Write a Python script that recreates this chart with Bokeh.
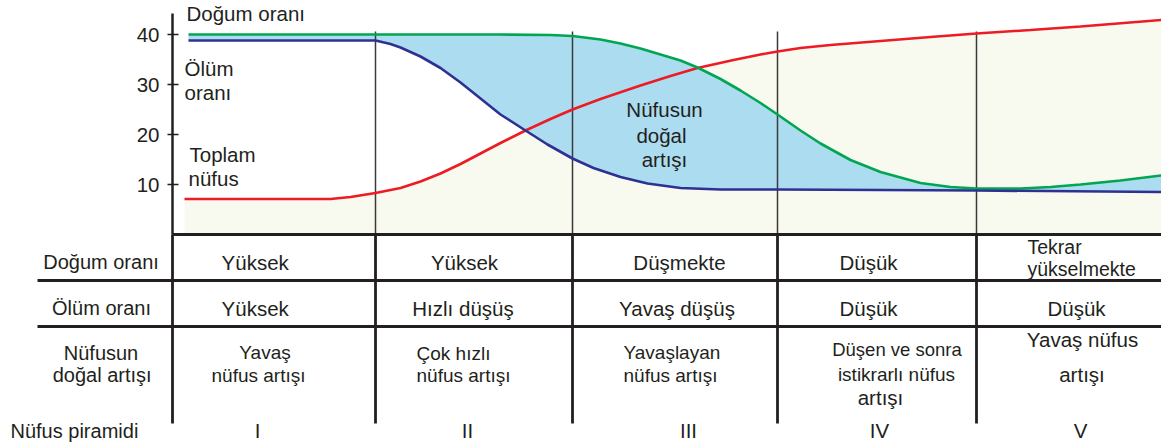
from bokeh.plotting import figure
from bokeh.models import Range1d, FixedTicker
from bokeh.embed import file_html
from bokeh.resources import INLINE
from bokeh.core.properties import value

# ---------------- data ----------------
# x: position along the time axis (0 = start of stage I)
stage_edges = [203, 400, 605, 804]
stage_names = ["I", "II", "III", "IV", "V"]
y_ticks = [10, 20, 30, 40]

birth_x = [16, 128, 228, 328, 378, 400, 428, 448, 468, 488, 508, 525, 548, 568, 588,
           605, 628, 648, 678, 708, 748, 778, 804, 848, 878, 908, 948, 989]
birth_y = [40.0, 40.0, 40.0, 40.0, 39.9, 39.7, 39.0, 38.2, 37.2, 36.0, 34.8, 33.4, 31.1, 28.8, 26.3,
           24.0, 20.8, 18.2, 14.9, 12.5, 10.3, 9.5, 9.2, 9.2, 9.5, 10.0, 10.8, 11.8]

death_x = [16, 128, 203, 218, 228, 248, 268, 288, 308, 328, 353, 375, 400, 421, 448,
           475, 508, 548, 605, 708, 804, 989]
death_y = [38.8, 38.8, 38.8, 38.1, 37.4, 35.6, 33.3, 30.4, 27.2, 24.0, 20.8, 18.0, 15.2, 13.3, 11.5,
           10.2, 9.3, 9.0, 9.0, 8.9, 8.8, 8.5]

pop_x = [12, 78, 158, 178, 203, 228, 248, 268, 288, 308, 328, 353, 378, 400, 428, 468,
         498, 525, 561, 588, 605, 628, 658, 708, 758, 804, 858, 908, 989]
pop_y = [7.1, 7.1, 7.1, 7.5, 8.3, 9.3, 10.6, 12.2, 14.1, 16.2, 18.3, 20.8, 23.1, 25.0, 27.1, 29.8,
         31.7, 33.3, 34.9, 36.0, 36.6, 37.3, 37.9, 38.7, 39.5, 40.2, 40.9, 41.6, 42.9]

# chart labels: text, x, y, align
chart_labels = [
    ("Doğum oranı", 14, 44.2, "left"),
    ("Ölüm", 12, 33.3, "left"),
    ("oranı", 12, 28.4, "left"),
    ("Toplam", 17, 16.0, "left"),
    ("nüfus", 16, 11.2, "left"),
    ("Nüfusun", 492, 25.0, "center"),
    ("doğal", 489, 19.9, "center"),
    ("artışı", 492, 15.1, "center"),
]

# table (y measured downward from the top of the table)
row_labels = ["Doğum oranı", "Ölüm oranı", "Nüfusun", "doğal artışı"]
row_label_x = [-71.5, -71, -71.5, -70.3]
row_label_y = [28.8, 74.5, 119.5, 141.5]
pyramid_label = "Nüfus piramidi"
pyramid_label_x = -162
pyramid_label_y = 197

cell_text = ["Yüksek", "Yüksek", "Düşmekte", "Düşük", "Tekrar", "yükselmekte",
             "Yüksek", "Hızlı düşüş", "Yavaş düşüş", "Düşük", "Düşük",
             "Yavaş", "nüfus artışı", "Çok hızlı", "nüfus artışı", "Yavaşlayan", "nüfus artışı",
             "Düşen ve sonra", "istikrarlı nüfus", "artışı", "Yavaş nüfus", "artışı"]
cell_x = [82.7, 292, 507, 696, 855, 855,
          82.7, 290.5, 504.5, 696, 904,
          92.5, 86, 244, 244, 451, 451,
          724.5, 724, 708, 910, 909.5]
cell_y = [28.5, 28.5, 28.5, 28.5, 13.5, 35.5,
          74.5, 74.5, 74.5, 74.5, 74.5,
          119, 141.5, 120, 141.5, 119, 141.5,
          115.5, 140.5, 163.5, 105.5, 140.5]
cell_align = ["center", "center", "center", "center", "left", "left",
              "center", "center", "center", "center", "center",
              "center", "center", "left", "left", "left", "left",
              "center", "center", "center", "center", "center"]
cell_size = (["20.5px"] * 4 + ["19.5px"] * 2 + ["20.5px"] * 5 + ["19px"] * 6
             + ["18.5px", "19px", "20.5px", "20.5px", "20.5px"])

stage_label_x = [85, 295, 516, 707, 908]
stage_label_y = [197] * 5

table_row_lines = [47, 93]
table_bottom = 190

# ---------------- style / layout ----------------
FONT = value("Liberation Sans")
INK = "#231f20"
W, H = 1161, 446
V0 = 234          # canvas y of rate 0
PXV = 5.0         # px per rate unit
TOP = 233         # canvas y of table origin

p = figure(width=W, height=H, output_backend="svg", toolbar_location=None,
           x_range=Range1d(-172, W - 172),
           y_range=Range1d((V0 - H) / PXV, V0 / PXV),
           x_axis_type=None, min_border=0)
p.extra_y_ranges = {"table": Range1d(H - TOP, -TOP)}
p.outline_line_color = None
p.ygrid.grid_line_color = None
p.background_fill_color = "white"

ax = p.yaxis[0]
ax.fixed_location = 0
ax.ticker = FixedTicker(ticks=y_ticks)
ax.bounds = (0, 44.3)
ax.axis_line_width = 2.5
ax.axis_line_color = INK
ax.major_tick_in = 6
ax.major_tick_out = 5
ax.major_tick_line_width = 1.5
ax.major_tick_line_color = INK
ax.minor_tick_line_color = None
ax.major_label_standoff = 8
ax.major_label_text_font = "Liberation Sans"
ax.major_label_text_font_size = "20.5px"
ax.major_label_text_color = INK

# ---- chart ----
p.varea(x=pop_x, y1=[0] * len(pop_x), y2=pop_y, fill_color="#f8f9ef")
p.patch(x=birth_x + death_x[::-1], y=birth_y + death_y[::-1],
        fill_color="#acdcf0", line_color=None)
p.segment(x0=stage_edges, y0=[0] * 4, x1=stage_edges, y1=[40.6] * 4,
          line_color="#3a3a3a", line_width=1.5)
p.line(pop_x, pop_y, line_color="#ed1c24", line_width=2.6)
p.line(birth_x, birth_y, line_color="#00a651", line_width=2.6)
p.line(death_x, death_y, line_color="#2e3192", line_width=2.6)

for align in ("left", "center"):
    sel = [c for c in chart_labels if c[3] == align]
    p.text(x=[c[1] for c in sel], y=[c[2] for c in sel], text=[c[0] for c in sel],
           text_align=align, text_baseline="middle", text_font=FONT,
           text_font_size="20.5px", text_color=INK)

# ---- table ----
TB = dict(y_range_name="table")
v_edges = [0] + stage_edges
p.segment(x0=v_edges, y0=[1] * 5, x1=v_edges, y1=[table_bottom] * 5,
          line_color=INK, line_width=2.8, **TB)
p.segment(x0=[0], y0=[1], x1=[989], y1=[1], line_color=INK, line_width=2.8, **TB)
p.segment(x0=[-135] * 2, y0=table_row_lines, x1=[989] * 2, y1=table_row_lines,
          line_color=INK, line_width=2.8, **TB)

p.text(x=row_label_x, y=row_label_y, text=row_labels, text_align="center",
       text_baseline="middle", text_font=FONT, text_font_size="20px", text_color=INK, **TB)
p.text(x=[pyramid_label_x], y=[pyramid_label_y], text=[pyramid_label], text_align="left",
       text_baseline="middle", text_font=FONT, text_font_size="20px", text_color=INK, **TB)

groups = sorted(set(zip(cell_align, cell_size)))
for align, size in groups:
    idx = [i for i in range(len(cell_text)) if cell_align[i] == align and cell_size[i] == size]
    p.text(x=[cell_x[i] for i in idx], y=[cell_y[i] for i in idx],
           text=[cell_text[i] for i in idx], text_align=align, text_baseline="middle",
           text_font=FONT, text_font_size=size, text_color=INK, **TB)

p.text(x=stage_label_x, y=stage_label_y, text=stage_names, text_align="center",
       text_baseline="middle", text_font=FONT, text_font_size="20.5px", text_color=INK, **TB)

open("out.html", "w").write(file_html(p, INLINE))
